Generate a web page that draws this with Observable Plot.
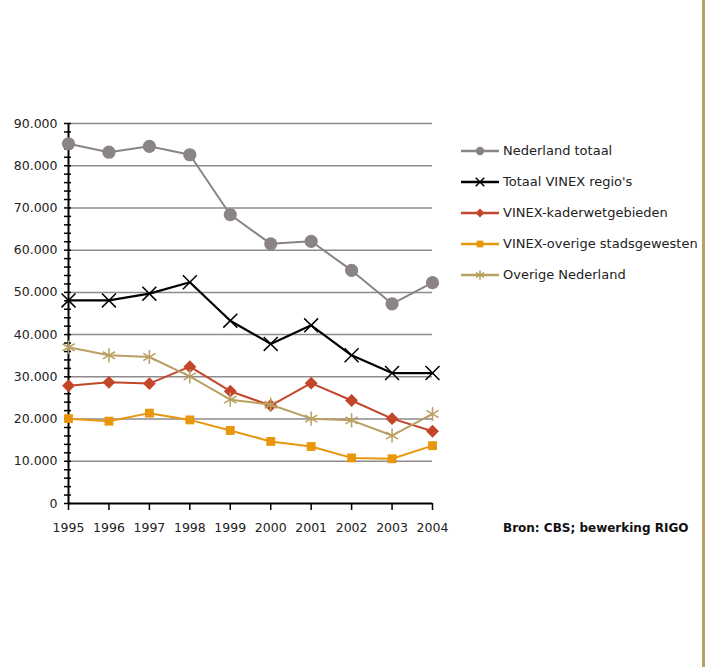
<!DOCTYPE html>
<html><head><meta charset="utf-8">
<script src="https://cdn.jsdelivr.net/npm/d3@7"></script>
<script src="https://cdn.jsdelivr.net/npm/@observablehq/plot@0.6"></script>
<style>
body{margin:0;background:#fff;font-family:"DejaVu Sans",sans-serif;}
#wrap{position:relative;width:715px;height:667px;overflow:hidden;}
#goldbar{position:absolute;left:702px;top:0;width:3px;height:667px;background:#b9a062;}
#legend{position:absolute;left:460px;top:135px;}
.row{display:flex;align-items:center;height:31px;font-size:13px;color:#222;}
.row svg{margin-right:3px;}
#source{position:absolute;left:503px;top:521px;font-size:12px;font-weight:bold;color:#111;}
</style></head>
<body><div id="wrap"><div id="chart"></div><div id="legend"></div><div id="source">Bron: CBS; bewerking RIGO</div><div id="goldbar"></div></div>
<script>
const years = [1995,1996,1997,1998,1999,2000,2001,2002,2003,2004];
const seriesNames = ["Nederland totaal","Totaal VINEX regio's","VINEX-kaderwetgebieden","VINEX-overige stadsgewesten","Overige Nederland"];
const nederlandTotaal = [85200,83200,84600,82600,68400,61500,62100,55200,47300,52300];
const totaalVinex = [48100,48100,49700,52400,43300,37800,42200,35100,30900,30900];
const vinexKaderwet = [27900,28700,28400,32400,26600,23200,28500,24400,20100,17100];
const vinexOverige = [20100,19500,21400,19800,17300,14700,13500,10800,10600,13700];
const overigeNederland = [37000,35100,34700,30100,24600,23400,20100,19700,16100,21200];
const yTicks = [0,10000,20000,30000,40000,50000,60000,70000,80000,90000];

const valuesBySeries = [nederlandTotaal,totaalVinex,vinexKaderwet,vinexOverige,overigeNederland];
const colors = ["#8a8486","#000000","#c4462a","#e8960c","#b9a062"];
const symbols = ["circle","times","diamond2","square","asterisk"];
const radii = [6.6,6.4,5.8,5.0,6.7];
const filled = [true,false,true,true,false];
const lineWidths = [2,2.2,2,2,2];

const fmt = d3.formatLocale({decimal:",",thousands:".",grouping:[3],currency:["",""]}).format(",d");
const font = '"DejaVu Sans",sans-serif';

const marks = [
  Plot.ruleY(yTicks.filter(d => d > 0), {stroke:"#8f8a8b", strokeWidth:1.5}),
  Plot.axisY({ticks: d3.range(0,90001,2000), tickSize:7, dx:3, text:null, label:null, stroke:"#000", strokeWidth:1.5}),
  Plot.axisY({ticks: yTicks, tickSize:0, tickPadding:11, tickFormat: fmt, label:null, fontSize:12.5, fill:"#222"}),
  Plot.axisX({ticks: years, tickSize:7, tickPadding:13, tickFormat: d => String(d), label:null, fontSize:12.5, fill:"#222", strokeWidth:1.5}),
  Plot.ruleX([1995], {stroke:"#000", strokeWidth:2}),
  Plot.ruleY([0], {stroke:"#000", strokeWidth:2})
];
seriesNames.forEach((name, i) => {
  const data = years.map((y, j) => ({year:y, value:valuesBySeries[i][j]}));
  marks.push(Plot.line(data, {x:"year", y:"value", stroke:colors[i], strokeWidth:lineWidths[i]}));
  marks.push(Plot.dot(data, filled[i]
    ? {x:"year", y:"value", symbol:()=>symbols[i], r:radii[i], fill:colors[i], stroke:"none"}
    : {x:"year", y:"value", symbol:()=>symbols[i], r:radii[i], stroke:colors[i], strokeWidth:1.5, fill:"none"}));
});

const plot = Plot.plot({
  width:715, height:667,
  marginLeft:68, marginRight:283, marginTop:123, marginBottom:164,
  x:{domain:[1995,2004], axis:null},
  y:{domain:[0,90000], axis:null},
  style:{fontFamily:font, background:"transparent"},
  marks
});
document.getElementById("chart").appendChild(plot);

// legend
const legend = d3.select("#legend");
const symMap = {circle:d3.symbolCircle,times:d3.symbolTimes,diamond2:d3.symbolDiamond2,square:d3.symbolSquare,asterisk:d3.symbolAsterisk};
const sizes = [55,50,50,45,60];
seriesNames.forEach((name, i) => {
  const row = legend.append("div").attr("class","row");
  const svg = row.append("svg").attr("width",40).attr("height",16);
  svg.append("line").attr("x1",1).attr("x2",39).attr("y1",8).attr("y2",8).attr("stroke",colors[i]).attr("stroke-width",2.5);
  const p = svg.append("path").attr("transform","translate(20,8)").attr("d", d3.symbol(symMap[symbols[i]], sizes[i])());
  if (filled[i]) p.attr("fill",colors[i]); else p.attr("fill","none").attr("stroke",colors[i]).attr("stroke-width",1.5);
  row.append("span").text(name);
});
</script>
</body></html>
